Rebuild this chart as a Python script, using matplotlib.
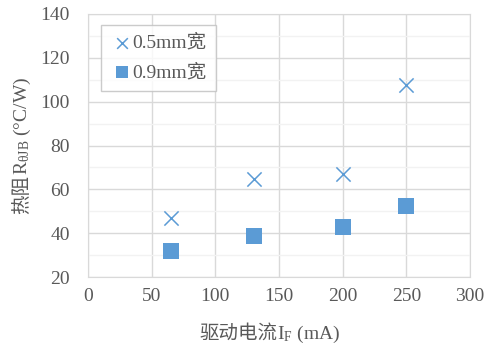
import numpy as np
import matplotlib.pyplot as plt
from matplotlib.ticker import MultipleLocator

# data
current = [65, 130, 200, 250]
r_05mm = [47, 64.5, 67, 107.5]
r_09mm = [32, 38.8, 42.8, 52.2]
labels = ["0.5mm宽", "0.9mm宽"]

plt.rcParams['font.family'] = ['Liberation Serif', 'Noto Sans CJK SC']
plt.rcParams['mathtext.fontset'] = 'custom'
plt.rcParams['mathtext.rm'] = 'Liberation Serif'
plt.rcParams['mathtext.it'] = 'Liberation Serif'

blue = '#5B9BD5'
grey = '#595959'

fig = plt.figure(figsize=(4.89, 3.45), dpi=100)
ax = fig.add_axes([88/489, 1-277/345, (470-88)/489, (277-14)/345])

ax.scatter(current, r_05mm, marker='x', s=105, color=blue, linewidths=1.1, label=labels[0], zorder=3)
ax.scatter(current, r_09mm, marker='s', s=140, color=blue, linewidths=0, label=labels[1], zorder=3)

ax.set_xlim(0, 300)
ax.set_ylim(20, 140)
ax.xaxis.set_major_locator(MultipleLocator(50))
ax.yaxis.set_major_locator(MultipleLocator(20))
ax.yaxis.set_minor_locator(MultipleLocator(10))
ax.grid(which='major', color='#d9d9d9', lw=1.0)
ax.grid(which='minor', axis='y', color='#f2f2f2', lw=1.0)
ax.set_axisbelow(True)
for s in ax.spines.values():
    s.set_color('#d9d9d9')
ax.tick_params(which='both', length=0, labelsize=14, colors=grey)
ax.tick_params(axis='x', pad=8)
ax.tick_params(axis='y', pad=13)

leg = ax.legend(loc='upper left', bbox_to_anchor=(0.034, 0.96), fontsize=14, frameon=True,
                fancybox=False, edgecolor='#bfbfbf', handletextpad=-0.1, handlelength=1.2,
                borderpad=0.5, labelspacing=0.6, borderaxespad=0, markerscale=0.75)
for t in leg.get_texts():
    t.set_color(grey)

# axis titles: chinese part and mathtext part drawn as two pieces
fig.canvas.draw()
r = fig.canvas.get_renderer()
W, H = fig.bbox.width, fig.bbox.height

# x label
cx, base = 270, 339
t1 = fig.text(0, 1 - base/H, "驱动电流", fontsize=14, color=grey, va='baseline', ha='left')
t2 = fig.text(0, 1 - base/H, "I$_{\\mathregular{F}}$ (mA)", fontsize=14, color=grey, va='baseline', ha='left')
w1 = t1.get_window_extent(r).width
w2 = t2.get_window_extent(r).width
x0 = cx - (w1 + w2) / 2
t1.set_x(x0 / W)
t2.set_x((x0 + w1) / W)

# y label
cy, bx = 145, 27
t3 = fig.text(bx/W, 0, "热阻", fontsize=14, color=grey, rotation=90,
              rotation_mode='anchor', va='baseline', ha='left')
t4 = fig.text(bx/W, 0, "R$_{\\mathregular{θJB}}$ (°C/W)", fontsize=14, color=grey, rotation=90,
              rotation_mode='anchor', va='baseline', ha='left')
h3 = t3.get_window_extent(r).height
h4 = t4.get_window_extent(r).height
y0 = cy - (h3 + h4) / 2   # from top, in pixels
t3.set_y(1 - (y0 + h4 + h3) / H)
t4.set_y(1 - (y0 + h4) / H)

plt.savefig("out.png", dpi=100)
